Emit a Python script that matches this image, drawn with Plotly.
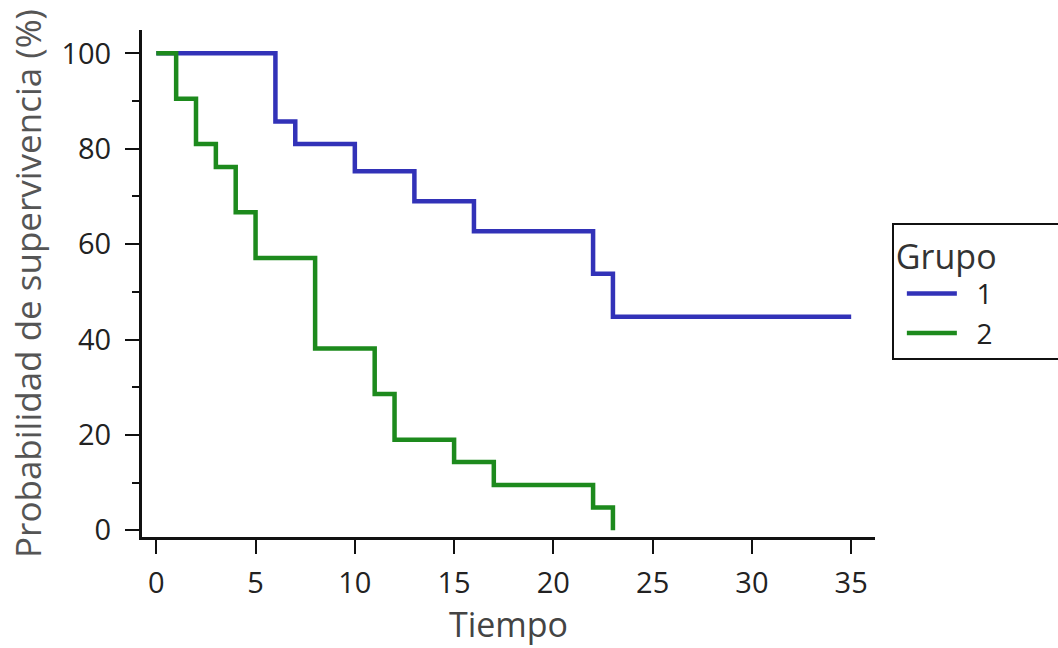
import plotly.graph_objects as go

# Group 1 Kaplan-Meier steps
t1 = [0, 6, 7, 10, 13, 16, 22, 23, 35]
s1 = [100, 85.7, 81.0, 75.3, 69.0, 62.7, 53.8, 44.8, 44.8]
# Group 2 Kaplan-Meier steps
t2 = [0, 1, 2, 3, 4, 5, 8, 11, 12, 15, 17, 22, 23]
s2 = [100, 90.5, 81.0, 76.2, 66.7, 57.1, 38.1, 28.6, 19.0, 14.3, 9.5, 4.8, 0]

x_ticks = [0, 5, 10, 15, 20, 25, 30, 35]
y_ticks = [0, 20, 40, 60, 80, 100]
group_names = ["1", "2"]

BLUE = "#3232b8"
GREEN = "#1d8a1d"
FONT = "Open Sans"
PAD = "&nbsp;&nbsp;"

fig = go.Figure()
fig.add_trace(go.Scatter(x=t1, y=s1, mode="lines", line_shape="hv",
                         line=dict(color=BLUE, width=4.5), name=PAD + group_names[0]))
fig.add_trace(go.Scatter(x=t2, y=s2, mode="lines", line_shape="hv",
                         line=dict(color=GREEN, width=4.5), name=PAD + group_names[1]))

axis_common = dict(showline=True, linewidth=3, linecolor="#111",
                   ticks="outside", ticklen=14, tickwidth=2, tickcolor="#111",
                   showgrid=False, zeroline=False,
                   tickfont=dict(family=FONT, size=29, color="#222"))

fig.update_xaxes(range=[-0.72, 36.2], tickvals=x_ticks,
                 title=dict(text="Tiempo", font=dict(family=FONT, size=34, color="#444"), standoff=2),
                 ticklabelstandoff=4, **axis_common)
fig.update_yaxes(range=[-1.4, 104.9], tickvals=y_ticks,
                 minor=dict(dtick=10, tick0=0, ticks="outside", ticklen=7, tickwidth=1.5, tickcolor="#111"),
                 title=dict(text="Probabilidad de supervivencia (%)", font=dict(family=FONT, size=35, color="#555"), standoff=10),
                 ticklabelstandoff=8, **axis_common)

fig.update_layout(
    width=1058, height=648,
    margin=dict(l=142, r=183, t=30, b=111, autoexpand=False),
    plot_bgcolor="white", paper_bgcolor="white",
    showlegend=True,
    legend=dict(x=1.023, y=0.62, xanchor="left", yanchor="top",
                title=dict(text="Grupo" + "&nbsp;" * 7, font=dict(family=FONT, size=34, color="#333")),
                font=dict(family=FONT, size=28, color="#222"),
                bordercolor="#111", borderwidth=2, bgcolor="white",
                itemwidth=50, indentation=8, tracegroupgap=0),
)

fig.write_html("out.html")
